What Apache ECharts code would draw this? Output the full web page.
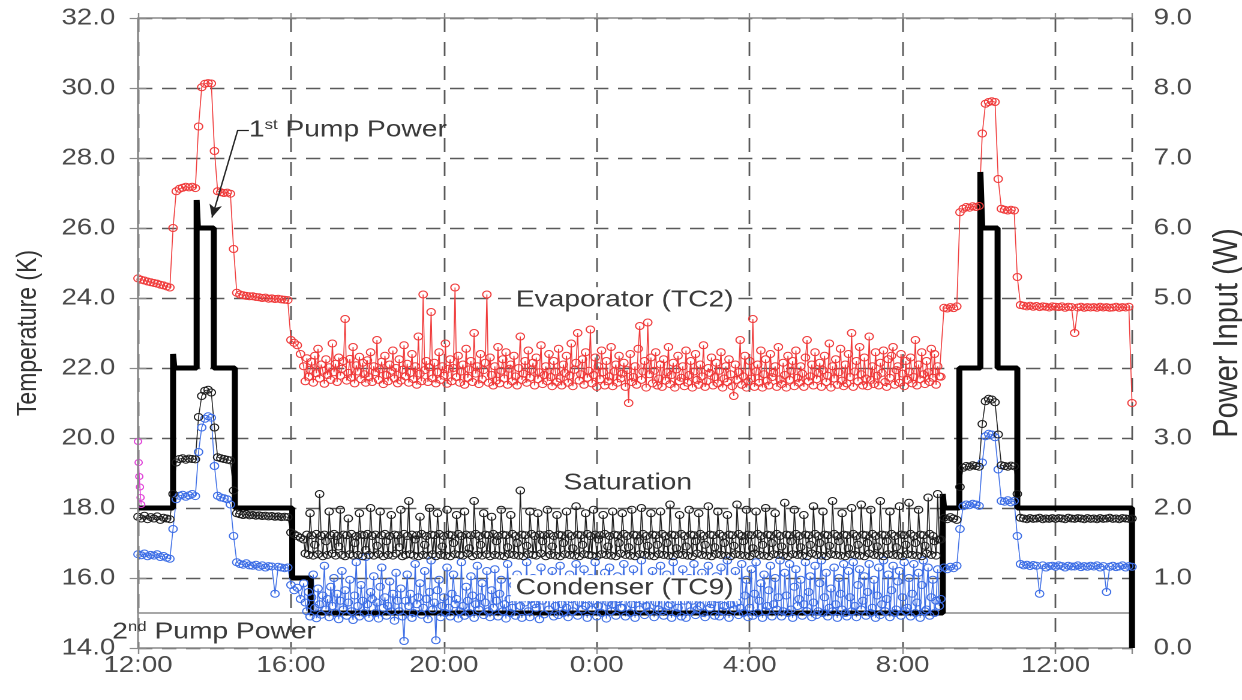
<!DOCTYPE html>
<html>
<head>
<meta charset="utf-8">
<script src="https://cdn.jsdelivr.net/npm/echarts@6/dist/echarts.min.js"></script>
<style>
  html, body { margin: 0; padding: 0; background: #fff; }
  #wrap { width: 1242px; height: 700px; overflow: hidden; }
  /* the figure is laid out at 1035px and widened to the full 1242px */
  #chart { width: 1035px; height: 700px; transform: scaleX(1.2); transform-origin: 0 0; }
</style>
</head>
<body>
<div id="wrap"><div id="chart"></div></div>
<script>
// Loop heat pipe run from 12:00 to 14:00 the next day.
// Day segments are logged every 5 min, the overnight segment every 2.5 min.
const DAY1_START_MIN = 0,    DAY1_STEP_MIN = 5;
const NIGHT_START_MIN = 260, NIGHT_STEP_MIN = 2.5;
const DAY2_START_MIN = 1260, DAY2_STEP_MIN = 5;

// ---- Evaporator thermocouple TC2 (K)
const evaporatorDay1 = [
  24.56, 24.52, 24.50, 24.47, 24.45, 24.43, 24.41, 24.38, 24.36, 24.33, 24.30, 26.00,
  27.05, 27.12, 27.15, 27.18, 27.16, 27.18, 27.14, 28.90, 30.02, 30.12, 30.14, 30.13,
  28.20, 27.05, 27.02, 27.00, 27.01, 26.98, 25.40, 24.15, 24.10, 24.08, 24.06, 24.05,
  24.05, 24.03, 24.02, 24.00, 24.01, 23.98, 23.99, 23.97, 23.98, 23.96, 23.95, 23.94,
  22.80, 22.72, 22.65, 22.40
];
const evaporatorNight = [
  22.05, 21.62, 22.28, 21.75, 21.95, 22.18, 21.58, 22.35, 21.85, 22.55, 21.70, 22.10, 21.92, 21.55, 22.25, 21.80, 22.02, 21.66, 22.70, 21.88,
  22.12, 21.60, 22.30, 21.78, 21.98, 22.20, 23.40, 21.64, 21.86, 22.26, 21.72, 22.60, 21.56, 22.08, 21.90, 22.32, 21.68, 22.15, 21.82, 21.58,
  22.22, 21.74, 22.45, 21.60, 22.05, 21.88, 22.80, 21.66, 21.96, 22.18, 21.54, 22.35, 21.80, 21.62, 22.10, 21.92, 22.50, 21.70, 22.00, 21.56,
  22.25, 21.64, 21.95, 22.65, 21.76, 22.12, 21.58, 21.86, 22.40, 21.68, 22.05, 21.52, 22.90, 21.84, 21.62, 24.10, 21.94, 22.20, 21.60, 22.02,
  23.60, 21.70, 22.15, 21.56, 21.88, 22.45, 21.66, 22.05, 21.78, 22.70, 21.55, 21.98, 22.25, 21.62, 22.00, 24.30, 21.74, 22.35, 21.58, 21.90,
  22.10, 21.52, 22.55, 21.72, 21.96, 22.20, 21.60, 23.00, 21.84, 22.05, 21.54, 22.40, 21.68, 21.94, 22.15, 24.10, 21.58, 22.30, 21.80, 21.50,
  22.05, 21.64, 22.60, 21.56, 21.92, 22.25, 21.70, 22.45, 21.52, 21.98, 22.10, 21.62, 22.35, 21.76, 21.50, 22.00, 22.90, 21.66, 21.84, 22.20,
  21.58, 22.50, 21.72, 21.95, 22.15, 21.50, 22.30, 21.68, 21.88, 22.65, 21.54, 21.80, 22.05, 21.62, 22.40, 21.74, 21.48, 22.20, 21.90, 21.60,
  22.55, 21.70, 21.50, 22.10, 21.86, 22.35, 21.58, 21.78, 22.70, 21.48, 21.95, 22.15, 23.00, 21.64, 21.82, 22.25, 21.52, 22.45, 21.72, 21.92,
  23.10, 21.56, 21.80, 22.30, 21.46, 22.05, 21.68, 22.50, 21.88, 21.50, 22.20, 21.62, 21.76, 22.60, 21.48, 21.90, 22.10, 21.58, 22.35, 21.70,
  21.84, 22.15, 21.46, 21.94, 21.00, 22.40, 21.60, 21.74, 22.05, 21.52, 22.55, 23.20, 21.66, 21.90, 22.20, 21.44, 23.30, 21.82, 22.30, 21.56,
  21.92, 22.45, 21.50, 21.70, 22.10, 21.46, 22.25, 21.64, 21.88, 22.60, 21.54, 21.80, 22.15, 21.44, 21.96, 22.35, 21.62, 21.72, 22.05, 21.48,
  22.50, 21.58, 21.80, 22.20, 21.44, 21.90, 22.40, 21.66, 21.52, 22.10, 21.76, 22.65, 21.46, 21.62, 22.00, 21.86, 22.30, 21.50, 21.74, 22.15,
  21.56, 21.92, 22.45, 21.44, 21.70, 22.05, 21.60, 22.25, 21.82, 21.48, 21.20, 22.10, 21.66, 21.88, 22.80, 21.52, 21.76, 22.35, 21.44, 21.62,
  22.20, 21.70, 23.40, 21.46, 21.90, 22.10, 21.58, 22.50, 21.44, 21.82, 22.25, 21.64, 21.50, 22.40, 21.74, 21.86, 22.05, 21.46, 22.60, 21.68,
  21.54, 22.15, 21.80, 21.44, 22.35, 21.66, 21.92, 22.20, 21.48, 22.50, 21.72, 21.58, 22.05, 21.84, 21.46, 22.30, 22.80, 21.62, 21.76, 22.10,
  21.50, 22.45, 21.68, 21.86, 22.15, 21.46, 21.94, 22.35, 21.60, 21.78, 22.70, 21.44, 22.05, 21.70, 22.25, 21.52, 21.88, 22.55, 21.64, 21.48,
  22.10, 21.56, 22.40, 21.74, 23.00, 21.46, 21.90, 22.20, 21.62, 22.60, 21.82, 21.50, 22.30, 21.70, 21.48, 22.90, 21.66, 22.05, 21.54, 22.45,
  21.78, 21.50, 22.15, 21.86, 22.50, 21.60, 21.46, 22.25, 21.72, 22.35, 22.60, 21.52, 21.94, 22.05, 21.58, 22.40, 21.84, 21.48, 22.20, 21.66,
  21.90, 22.30, 21.56, 21.74, 22.80, 21.50, 22.10, 21.68, 22.45, 21.82, 21.54, 22.20, 21.88, 21.60, 22.55, 21.72, 22.40, 21.52, 22.05, 21.76
];
const evaporatorDay2 = [
  21.75, 23.72, 23.70, 23.74, 23.71, 23.76, 26.45, 26.55, 26.60, 26.58, 26.62, 26.60,
  26.63, 28.70, 29.55, 29.60, 29.62, 29.60, 27.40, 26.55, 26.52, 26.50, 26.52, 26.50,
  24.60, 23.80, 23.78, 23.76, 23.78, 23.75, 23.77, 23.74, 23.76, 23.75, 23.73, 23.76,
  23.75, 23.74, 23.76, 23.72, 23.75, 23.74, 23.00, 23.73, 23.75, 23.72, 23.74, 23.73,
  23.74, 23.72, 23.75, 23.73, 23.74, 23.72, 23.73, 23.75, 23.72, 23.74, 23.73, 23.75,
  21.00
];

// ---- Saturation temperature (K)
const saturationDay1 = [
  17.75, 17.70, 17.78, 17.68, 17.74, 17.70, 17.76, 17.66, 17.72, 17.70, 17.68, 18.40,
  19.30, 19.40, 19.42, 19.38, 19.41, 19.40, 19.39, 20.60, 21.20, 21.35, 21.38, 21.30,
  20.30, 19.45, 19.42, 19.40, 19.38, 19.36, 18.50, 17.85, 17.82, 17.80, 17.82, 17.79,
  17.80, 17.78, 17.79, 17.77, 17.78, 17.76, 17.77, 17.75, 17.76, 17.74, 17.75, 17.74,
  17.30, 17.25, 17.20, 17.15
];
const saturationNight = [
  17.10, 16.70, 17.24, 16.66, 17.85, 17.22, 16.64, 16.95, 17.26, 16.68, 18.40, 17.20, 16.62, 17.24, 17.05, 16.66, 17.90, 17.22, 16.70, 17.26,
  16.64, 17.20, 16.90, 17.95, 16.66, 17.24, 16.62, 17.22, 17.70, 16.68, 17.26, 16.64, 17.00, 17.20, 16.66, 17.85, 17.24, 16.62, 17.22, 16.80,
  17.26, 16.66, 18.00, 17.20, 16.64, 17.24, 16.92, 16.68, 17.90, 17.22, 16.62, 17.26, 17.05, 16.66, 17.20, 17.80, 16.64, 17.24, 16.70, 17.22,
  16.88, 17.95, 16.62, 17.26, 16.66, 17.20, 18.20, 16.68, 17.24, 16.64, 17.10, 17.22, 16.62, 17.75, 17.26, 16.66, 16.95, 17.20, 16.64, 18.00,
  17.24, 16.68, 17.22, 16.62, 17.85, 17.26, 16.66, 16.90, 17.20, 16.64, 17.95, 17.24, 16.62, 17.22, 17.00, 16.68, 17.80, 17.26, 16.66, 17.20,
  16.64, 17.90, 17.24, 16.70, 16.85, 17.22, 16.62, 18.20, 17.26, 16.66, 17.20, 16.95, 16.64, 17.85, 17.24, 16.68, 17.22, 16.62, 17.75, 17.26,
  16.66, 17.05, 17.20, 16.64, 17.95, 17.24, 16.62, 17.22, 16.88, 16.68, 17.80, 17.26, 16.66, 17.20, 17.00, 16.64, 18.50, 17.24, 16.62, 17.22,
  16.92, 16.68, 17.90, 17.26, 16.66, 17.20, 16.64, 17.85, 17.24, 16.70, 17.05, 17.22, 16.62, 17.95, 17.26, 16.66, 16.90, 17.20, 16.64, 17.80,
  17.24, 16.62, 17.22, 17.00, 16.68, 17.90, 17.26, 16.66, 17.20, 16.85, 16.64, 18.05, 17.24, 16.62, 17.22, 16.95, 16.68, 17.85, 17.26, 16.66,
  17.20, 16.64, 17.95, 17.24, 16.62, 17.10, 17.22, 16.68, 17.80, 17.26, 16.66, 16.90, 17.20, 16.64, 17.90, 17.24, 16.62, 17.22, 17.00, 16.70,
  17.85, 17.26, 16.66, 17.20, 16.88, 16.64, 17.95, 17.24, 16.62, 17.22, 17.05, 16.68, 18.00, 17.26, 16.66, 17.20, 16.92, 16.64, 17.85, 17.24,
  16.62, 17.22, 16.95, 16.68, 17.90, 17.26, 16.66, 17.20, 17.00, 16.64, 18.10, 17.24, 16.62, 17.22, 16.85, 16.68, 17.80, 17.26, 16.66, 17.20,
  16.90, 16.64, 17.95, 17.24, 16.62, 17.22, 17.05, 16.70, 17.85, 17.26, 16.66, 17.20, 16.95, 16.64, 18.05, 17.24, 16.62, 17.22, 16.88, 16.68,
  17.90, 17.26, 16.66, 17.20, 17.00, 16.64, 17.80, 17.24, 16.62, 17.22, 16.92, 16.68, 18.10, 17.26, 16.66, 17.20, 17.05, 16.64, 17.95, 17.24,
  16.62, 17.22, 16.85, 16.70, 17.90, 17.26, 16.66, 17.20, 16.95, 16.64, 18.00, 17.24, 16.62, 17.22, 17.00, 16.68, 17.85, 17.26, 16.66, 17.20,
  16.90, 16.64, 18.15, 17.24, 16.62, 17.22, 17.05, 16.68, 17.95, 17.26, 16.66, 17.20, 16.88, 16.64, 17.80, 17.24, 16.62, 17.22, 16.95, 16.70,
  18.05, 17.26, 16.66, 17.20, 17.00, 16.64, 17.90, 17.24, 16.62, 17.22, 16.92, 16.68, 18.20, 17.26, 16.66, 17.20, 17.05, 16.64, 17.85, 17.24,
  16.62, 17.22, 16.85, 16.68, 18.00, 17.26, 16.66, 17.20, 16.95, 16.64, 18.10, 17.24, 16.62, 17.22, 17.00, 16.70, 17.95, 17.26, 16.66, 17.20,
  16.90, 16.64, 18.20, 17.24, 16.62, 17.22, 17.05, 16.68, 17.90, 17.26, 16.66, 17.20, 16.88, 16.64, 18.05, 17.24, 16.62, 17.22, 16.95, 16.68,
  18.15, 17.26, 16.66, 17.20, 17.00, 16.64, 17.95, 17.24, 16.62, 17.22, 16.92, 16.70, 18.30, 17.26, 16.66, 17.20, 17.05, 16.64, 18.40, 17.10
];
const saturationDay2 = [
  17.10, 17.72, 17.68, 17.74, 17.70, 17.66, 18.60, 19.15, 19.20, 19.18, 19.22, 19.20,
  19.18, 20.40, 21.05, 21.12, 21.10, 21.02, 20.10, 19.22, 19.20, 19.18, 19.21, 19.19,
  18.40, 17.72, 17.70, 17.68, 17.71, 17.69, 17.70, 17.72, 17.68, 17.70, 17.69, 17.71,
  17.69, 17.71, 17.70, 17.68, 17.72, 17.70, 17.69, 17.71, 17.70, 17.68, 17.71, 17.69,
  17.70, 17.68, 17.71, 17.69, 17.70, 17.72, 17.69, 17.70, 17.68, 17.71, 17.70, 17.69,
  17.70
];

// ---- Condenser thermocouple TC9 (K)
const condenserDay1 = [
  16.68, 16.65, 16.70, 16.62, 16.66, 16.64, 16.68, 16.60, 16.63, 16.58, 16.55, 17.40,
  18.25, 18.35, 18.38, 18.32, 18.36, 18.40, 18.34, 19.60, 20.30, 20.55, 20.62, 20.58,
  19.20, 18.35, 18.30, 18.28, 18.25, 18.10, 17.20, 16.45, 16.40, 16.38, 16.42, 16.36,
  16.35, 16.38, 16.32, 16.36, 16.30, 16.34, 16.33, 15.55, 16.32, 16.30, 16.28, 16.30,
  15.80, 15.65, 15.72, 15.40
];
const condenserNight = [
  15.85, 15.30, 15.05, 15.60, 14.90, 15.45, 16.10, 15.15, 14.85, 15.70, 15.25, 14.95, 15.50, 16.35, 15.10, 15.40, 14.88, 15.75, 15.20, 16.00,
  15.00, 15.55, 14.82, 15.35, 16.20, 15.10, 15.65, 14.92, 15.30, 15.95, 15.05, 14.80, 15.50, 16.45, 15.20, 14.90, 15.80, 15.35, 15.00, 16.60,
  15.25, 14.86, 15.60, 15.40, 16.05, 15.00, 15.30, 14.84, 15.75, 16.30, 15.15, 15.45, 14.92, 15.20, 15.90, 15.05, 15.55, 14.78, 16.15, 15.35,
  15.05, 15.70, 14.90, 14.20, 15.35, 16.10, 15.20, 15.55, 14.86, 15.00, 16.40, 15.25, 15.45, 15.85, 14.95, 15.15, 16.20, 15.40, 14.82, 15.60,
  16.50, 15.10, 15.30, 14.22, 15.65, 15.95, 14.88, 15.20, 15.45, 15.00, 16.30, 15.15, 14.90, 15.55, 16.10, 15.25, 15.40, 14.84, 15.05, 16.45,
  15.20, 14.92, 15.75, 15.35, 15.00, 16.05, 15.50, 14.86, 15.25, 16.35, 15.10, 15.45, 15.85, 14.94, 15.30, 16.20, 15.05, 14.88, 15.65, 15.15,
  16.25, 15.35, 14.90, 15.55, 15.95, 15.05, 15.25, 14.84, 16.40, 15.40, 15.00, 15.15, 15.80, 14.92, 16.10, 15.45, 15.20, 14.86, 15.60, 15.30,
  16.45, 15.05, 14.88, 15.40, 16.00, 15.25, 15.15, 15.70, 14.82, 16.30, 15.35, 14.96, 15.50, 15.90, 15.10, 15.55, 16.20, 14.90, 15.20, 15.85,
  14.94, 16.35, 15.25, 15.00, 15.60, 15.15, 14.88, 16.10, 15.40, 15.05, 15.75, 16.40, 14.92, 15.30, 15.50, 15.10, 16.25, 15.20, 14.86, 15.65,
  16.00, 15.10, 15.35, 16.45, 14.90, 15.20, 15.80, 15.00, 15.45, 16.15, 14.84, 15.30, 16.30, 15.05, 15.25, 15.60, 14.92, 16.05, 15.40, 15.15,
  15.15, 16.40, 14.90, 15.55, 15.90, 15.00, 15.25, 16.25, 14.86, 15.40, 15.70, 15.10, 16.50, 15.35, 14.94, 15.20, 15.95, 15.05, 15.50, 16.20,
  14.88, 15.30, 15.85, 15.10, 16.35, 15.05, 14.92, 15.60, 16.10, 15.20, 15.25, 14.86, 16.45, 15.45, 15.00, 15.15, 15.75, 14.90, 16.25, 15.35,
  14.86, 15.65, 16.00, 15.05, 15.35, 16.40, 14.94, 15.10, 15.55, 15.20, 16.15, 15.00, 14.88, 15.80, 16.35, 15.15, 15.25, 15.60, 14.92, 16.05,
  15.40, 14.90, 16.30, 15.05, 15.20, 15.75, 16.50, 14.86, 15.25, 15.90, 15.10, 16.20, 15.30, 14.94, 15.15, 16.40, 15.00, 15.50, 15.95, 14.88,
  15.15, 16.25, 14.92, 15.55, 16.45, 15.00, 15.35, 15.85, 14.86, 16.10, 15.05, 15.20, 15.65, 16.35, 14.90, 15.25, 16.00, 15.10, 15.45, 16.50,
  14.90, 15.05, 16.15, 15.50, 15.00, 16.40, 15.10, 14.86, 15.75, 16.25, 15.20, 15.40, 15.95, 14.92, 15.25, 16.45, 15.05, 15.60, 16.05, 14.88,
  15.30, 16.35, 14.94, 15.05, 15.85, 16.50, 15.00, 15.45, 16.15, 14.90, 15.15, 15.70, 15.05, 16.30, 15.25, 14.86, 16.00, 15.55, 15.10, 16.40,
  15.00, 14.90, 16.20, 15.45, 15.05, 16.45, 15.20, 14.88, 15.80, 16.25, 15.10, 15.35, 16.05, 14.92, 15.60, 16.40, 15.00, 15.15, 15.95, 14.86,
  15.50, 16.30, 14.94, 15.25, 16.50, 15.05, 15.40, 16.10, 14.88, 15.65, 16.35, 15.00, 15.10, 15.90, 16.20, 14.92, 15.45, 16.45, 15.05, 15.15,
  16.00, 14.90, 15.55, 16.40, 15.00, 15.30, 16.15, 14.86, 15.80, 16.50, 15.05, 15.10, 16.30, 14.92, 15.45, 15.95, 15.00, 15.35, 16.25, 15.20
];
const condenserDay2 = [
  15.40, 16.30, 16.25, 16.32, 16.28, 16.35, 17.40, 18.05, 18.10, 18.08, 18.12, 18.10,
  18.06, 19.30, 20.05, 20.12, 20.10, 20.02, 19.10, 18.20, 18.18, 18.22, 18.16, 18.20,
  17.20, 16.40, 16.36, 16.38, 16.34, 16.37, 16.35, 15.55, 16.36, 16.30, 16.34, 16.35,
  16.32, 16.36, 16.34, 16.30, 16.35, 16.33, 16.33, 16.36, 16.31, 16.34, 16.32, 16.35,
  16.33, 16.36, 16.30, 16.34, 15.60, 16.32, 16.35, 16.31, 16.33, 16.36, 16.30, 16.34,
  16.32
];

// ---- Start-up thermocouple, first minutes only (K)
const startupMinutes = [0, 1, 2, 3, 4, 5];
const startupTemp = [19.9, 19.3, 18.9, 18.6, 18.3, 18.1];

// ---- 1st pump heater power (W), each value held until the next change
const pump1Minutes = [0, 55, 57, 92, 94, 119, 152, 242, 271, 1263, 1265, 1289, 1322, 1325, 1349, 1380, 1560];
const pump1Watts   = [2.0, 4.2, 4.0, 6.4, 6.0, 4.0, 2.0, 1.0, 0.5, 2.2, 2.0, 4.0, 6.8, 6.0, 4.0, 2.0, 0.0];

// ---- 2nd pump heater power (W)
const pump2Minutes = [0, 1560];
const pump2Watts = [0.5, 0.5];

// ---- Clock labels every 4 hours from the 12:00 start
const timeLabels = ['12:00', '16:00', '20:00', '0:00', '4:00', '8:00', '12:00'];

const seg = (startMin, stepMin, vals) => vals.map((v, i) => [(startMin + i * stepMin) / 60, v]);
const logged = (day1, night, day2) => [].concat(
  seg(DAY1_START_MIN, DAY1_STEP_MIN, day1),
  seg(NIGHT_START_MIN, NIGHT_STEP_MIN, night),
  seg(DAY2_START_MIN, DAY2_STEP_MIN, day2)
);
const byMinutes = (mins, vals) => mins.map((m, i) => [m / 60, vals[i]]);

const FONT = "'Liberation Sans', Arial, sans-serif";
const AXIS_GRAY = '#8a8a8a';
const GRID_GRAY = '#5a5a5a';
const TXT = '#3a3a3a';
const TICK_TXT = '#4a4a4a';
const RED = '#f03a3a';
const BLUE = '#3d6ee6';

function hollow(color, size) {
  return {
    type: 'line',
    symbol: 'circle',
    symbolSize: size,
    showSymbol: true,
    itemStyle: { color: 'rgba(255,255,255,0)', borderColor: color, borderWidth: 1 },
    lineStyle: { color: color, width: 0.8 },
    emphasis: { disabled: true },
    animation: false,
    silent: true
  };
}

const NOTE_SIZE = 23.5;
const labelText = { fontFamily: FONT, fontSize: NOTE_SIZE, color: TXT };
const supRich = { sup: { fontFamily: FONT, fontSize: 14, color: TXT, verticalAlign: 'top', lineHeight: 14 } };
const note = (coord, text, extra) => ({
  coord: coord,
  label: Object.assign({ show: true, position: 'inside', formatter: text }, labelText, extra || {})
});

const chart = echarts.init(document.getElementById('chart'), null, { renderer: 'canvas', devicePixelRatio: 2 });

chart.setOption({
  backgroundColor: '#fff',
  animation: false,
  grid: { left: 115, right: 91.67, top: 18, bottom: 52, containLabel: false, outerBoundsMode: 'none' },
  xAxis: [
    {
      type: 'value', position: 'bottom', min: 0, max: 26, interval: 4,
      axisLine: { show: true, lineStyle: { color: AXIS_GRAY, width: 1.5 } },
      axisTick: { show: true, inside: false, length: 6, lineStyle: { color: AXIS_GRAY, width: 1.2 } },
      axisLabel: {
        margin: 6, fontFamily: FONT, fontSize: 23, color: TICK_TXT,
        formatter: v => timeLabels[Math.round(v / 4)] ?? ''
      },
      splitLine: { show: true, lineStyle: { color: GRID_GRAY, width: 1.4, type: [14, 10] } }
    },
    {
      type: 'value', position: 'top', min: 0, max: 26, interval: 4,
      axisLine: { show: true, lineStyle: { color: AXIS_GRAY, width: 1.5 } },
      axisTick: { show: true, inside: false, length: 5, lineStyle: { color: AXIS_GRAY, width: 1.2 } },
      axisLabel: { show: false },
      splitLine: { show: false }
    }
  ],
  yAxis: [
    {
      type: 'value', position: 'left', min: 14, max: 32, interval: 2,
      name: 'Temperature (K)', nameLocation: 'middle', nameRotate: 90, nameGap: 80,
      nameTextStyle: { fontFamily: FONT, fontSize: 23, color: '#333' },
      axisLine: { show: false },
      axisTick: { show: true, inside: false, length: 7, lineStyle: { color: AXIS_GRAY, width: 1.2 } },
      axisLabel: { margin: 19, fontFamily: FONT, fontSize: 23, color: TICK_TXT, formatter: v => v.toFixed(1) },
      splitLine: { show: true, lineStyle: { color: GRID_GRAY, width: 1.4, type: [12, 8] } }
    },
    {
      type: 'value', position: 'right', min: 0, max: 9, interval: 1,
      name: 'Power Input (W)', nameLocation: 'middle', nameRotate: 90, nameGap: 65,
      nameTextStyle: { fontFamily: FONT, fontSize: 29, color: '#333' },
      axisLine: { show: true, lineStyle: { color: AXIS_GRAY, width: 1.5 } },
      axisTick: { show: true, inside: false, length: 7, lineStyle: { color: AXIS_GRAY, width: 1.2 } },
      axisLabel: { margin: 18, fontFamily: FONT, fontSize: 23, color: TICK_TXT, formatter: v => v.toFixed(1) },
      splitLine: { show: false }
    }
  ],
  series: [
    {
      name: '2nd Pump Power', type: 'line', yAxisIndex: 1, symbol: 'none',
      data: byMinutes(pump2Minutes, pump2Watts),
      lineStyle: { color: '#8a8a8a', width: 1.5 }, silent: true, animation: false
    },
    Object.assign(hollow(BLUE, 7), { name: 'Condenser (TC9)', data: logged(condenserDay1, condenserNight, condenserDay2) }),
    Object.assign(hollow('#1e1e1e', 7), { name: 'Saturation', data: logged(saturationDay1, saturationNight, saturationDay2) }),
    Object.assign(hollow(RED, 7), { name: 'Evaporator (TC2)', data: logged(evaporatorDay1, evaporatorNight, evaporatorDay2) }),
    Object.assign(hollow('#e040d8', 6), { name: 'Start-up', data: byMinutes(startupMinutes, startupTemp) }),
    {
      name: '1st Pump Power', type: 'line', yAxisIndex: 1, step: 'end', symbol: 'none',
      data: byMinutes(pump1Minutes, pump1Watts),
      lineStyle: { color: '#000', width: 5 }, silent: true, animation: false
    },
    {
      // left frame edge, pointer to the 1st pump trace, and the text notes
      name: 'notes', type: 'line', yAxisIndex: 0, data: [], silent: true, animation: false,
      markLine: {
        silent: true, animation: false, symbol: 'none',
        label: { show: false },
        emphasis: { disabled: true },
        data: [
          [
            { coord: [0, 15], lineStyle: { color: AXIS_GRAY, width: 1.5, type: 'solid' } },
            { coord: [0, 32] }
          ],
          [
            { coord: [2.90, 28.8], lineStyle: { color: '#222', width: 1.2, type: 'solid' } },
            { coord: [2.61, 28.8] }
          ],
          [
            { coord: [2.61, 28.8], symbol: 'none', lineStyle: { color: '#222', width: 1.2, type: 'solid' } },
            { coord: [1.935, 26.3], symbol: 'arrow', symbolSize: [8, 13] }
          ]
        ]
      },
      markPoint: {
        silent: true, animation: false, symbol: 'circle', symbolSize: 0,
        data: [
          note([5.49, 28.8], '1{sup|st} Pump Power', { rich: supRich }),
          note([12.73, 23.94], 'Evaporator (TC2)', { backgroundColor: '#fff', padding: [1, 4] }),
          note([12.81, 18.71], 'Saturation', { backgroundColor: '#fff', padding: [1, 3] }),
          note([12.73, 15.71], 'Condenser (TC9)', { backgroundColor: '#fff', padding: [1, 4] }),
          note([1.99, 14.46], '2{sup|nd} Pump Power', { rich: supRich })
        ]
      }
    }
  ]
});
</script>
</body>
</html>
